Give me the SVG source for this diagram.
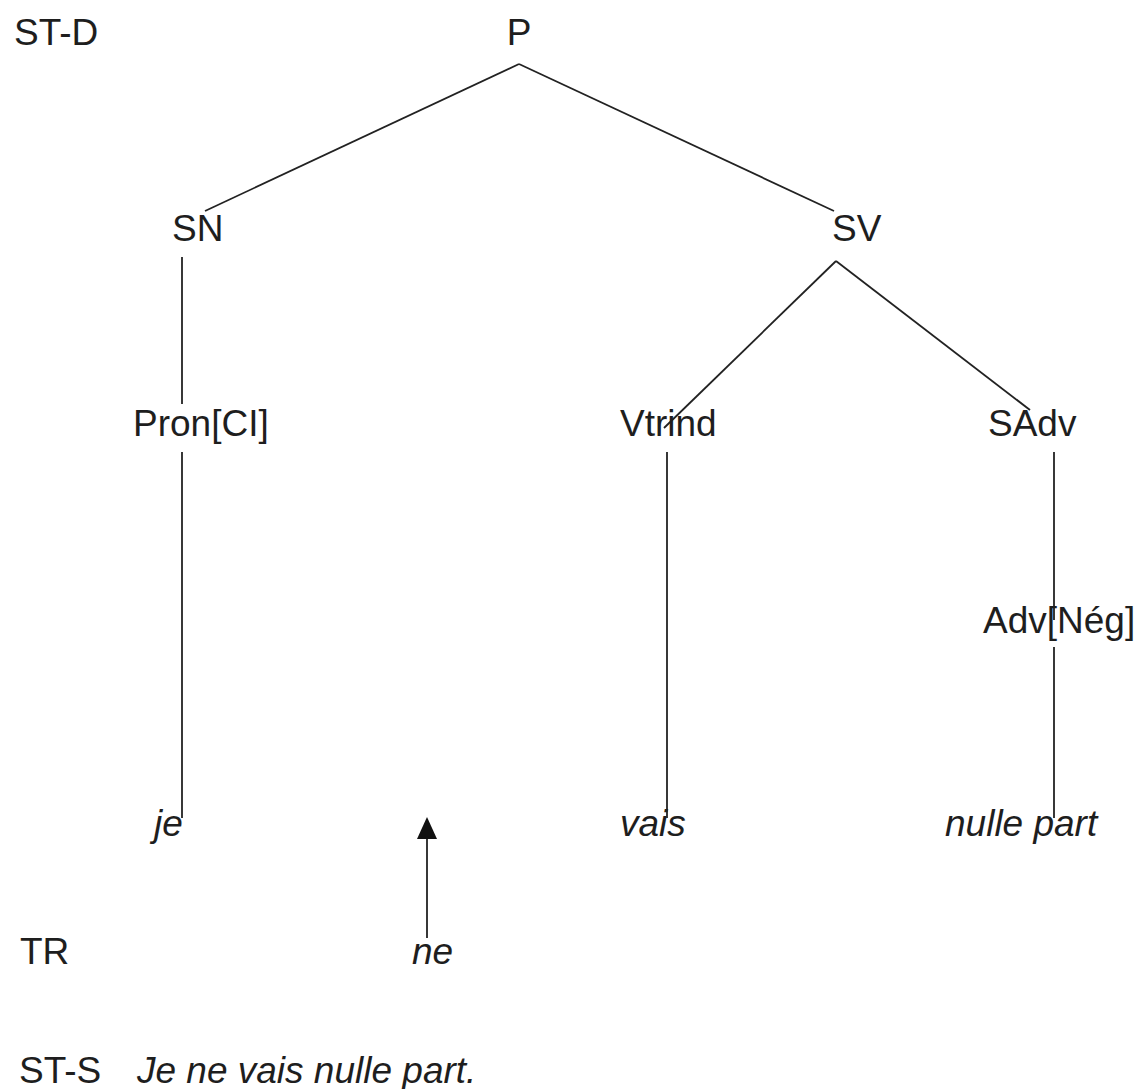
<svg xmlns="http://www.w3.org/2000/svg" width="1140" height="1089" viewBox="0 0 1140 1089">
  <style>
    .lbl { font-family: "Liberation Sans", Arial, sans-serif; font-size: 37px; fill: #1e1e1e; }
    .word { font-style: italic; }
    .edge { stroke: #222; stroke-width: 1.8; fill: none; }
  </style>
  <defs>
    <!-- solid triangular head, base sits on the line end -->
    <marker id="arrowhead" markerWidth="22" markerHeight="20" refX="0" refY="10" orient="auto" markerUnits="userSpaceOnUse" viewBox="0 0 22 20">
      <path d="M0 0 L22 10 L0 20 Z" fill="#111"/>
    </marker>
  </defs>
  <rect width="1140" height="1089" fill="#fff"/>

  <!-- level labels -->
  <g id="level-st-d"><text class="lbl" x="14" y="45">ST-D</text></g>
  <g id="level-tr"><text class="lbl" x="20" y="964">TR</text></g>
  <g id="level-st-s">
    <text class="lbl" x="19" y="1083">ST-S</text>
    <text class="lbl word" x="137" y="1083">Je ne vais nulle part.</text>
  </g>

  <!-- tree edges -->
  <g id="connectors">
    <line class="edge" x1="519" y1="64" x2="205" y2="211"/>
    <line class="edge" x1="519" y1="64" x2="834" y2="211"/>
    <line class="edge" x1="182" y1="257" x2="182" y2="404"/>
    <line class="edge" x1="182" y1="452" x2="182" y2="818"/>
    <line class="edge" x1="836" y1="261" x2="664" y2="428"/>
    <line class="edge" x1="836" y1="261" x2="1030" y2="410"/>
    <line class="edge" x1="667" y1="452" x2="667" y2="818"/>
    <line class="edge" x1="1054" y1="452" x2="1054" y2="620"/>
    <line class="edge" x1="1054" y1="647" x2="1054" y2="818"/>
    <!-- movement of "ne" -->
    <line class="edge" x1="427" y1="938" x2="427" y2="839" marker-end="url(#arrowhead)"/>
  </g>

  <!-- nodes -->
  <g id="node-p"><text class="lbl" x="519" y="45" text-anchor="middle">P</text></g>
  <g id="node-sn"><text class="lbl" x="172" y="241">SN</text></g>
  <g id="node-sv"><text class="lbl" x="832" y="241">SV</text></g>
  <g id="node-pron"><text class="lbl" x="133" y="436">Pron[CI]</text></g>
  <g id="node-vtrind"><text class="lbl" x="620" y="436">Vtrind</text></g>
  <g id="node-sadv"><text class="lbl" x="988" y="436">SAdv</text></g>
  <g id="node-adv"><text class="lbl" x="983" y="633">Adv[Nég]</text></g>
  <g id="word-je"><text class="lbl word" x="154" y="836">je</text></g>
  <g id="word-vais"><text class="lbl word" x="620" y="836">vais</text></g>
  <g id="word-nulle-part"><text class="lbl word" x="945" y="836">nulle part</text></g>
  <g id="word-ne"><text class="lbl word" x="412" y="964">ne</text></g>
</svg>
